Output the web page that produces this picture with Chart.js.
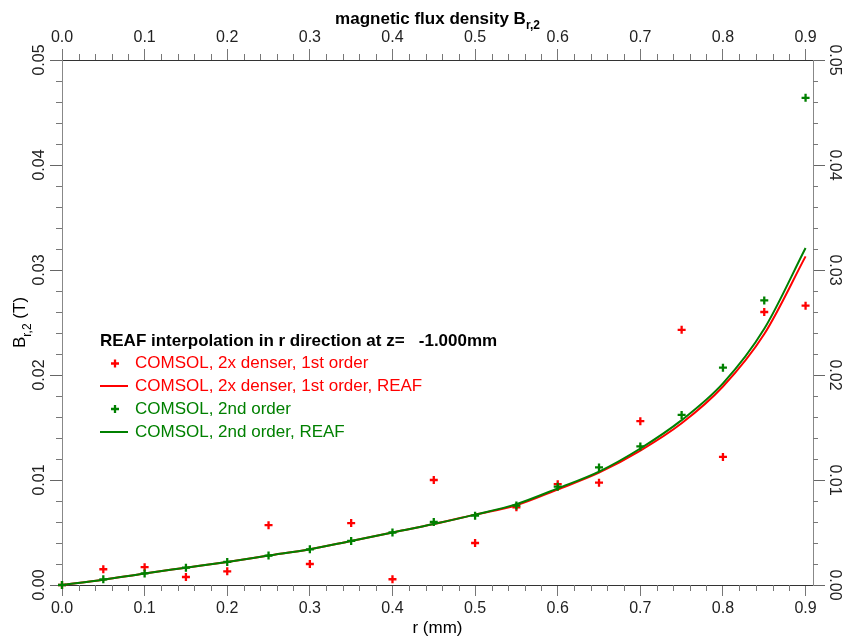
<!DOCTYPE html>
<html>
<head>
<meta charset="utf-8">
<title>magnetic flux density B r,2</title>
<script src="https://cdn.jsdelivr.net/npm/chart.js@4.4.1/dist/chart.umd.min.js"></script>
<style>
  html, body { margin: 0; padding: 0; background: #fff; }
  #wrap { width: 847px; height: 637px; position: relative; }
</style>
</head>
<body>
<div id="wrap"><canvas id="fluxChart"></canvas></div>
<script>
// r positions (mm)
const rValues = [0, 0.05, 0.1, 0.15, 0.2, 0.25, 0.3, 0.35, 0.4, 0.45,
  0.5, 0.55, 0.6, 0.65, 0.7, 0.75, 0.8, 0.85, 0.9];

// COMSOL, 2x denser, 1st order (points)
const denserPoints = [0, 0.0015, 0.0017, 0.00076, 0.0013, 0.0057, 0.0020, 0.0059, 0.00055, 0.0100,
  0.0040, 0.0074, 0.0096, 0.00975, 0.0156, 0.0243, 0.0122, 0.0260, 0.0266];
// COMSOL, 2x denser, 1st order, REAF (line)
const denserReaf = [0, 0.0005, 0.0011, 0.00165, 0.0022, 0.0028, 0.0034, 0.0042, 0.0050, 0.0058,
  0.0067, 0.0076, 0.0091, 0.0107, 0.0128, 0.0154, 0.0189, 0.0239, 0.0313];
// COMSOL, 2nd order (points)
const secondPoints = [0, 0.00054, 0.0011, 0.00165, 0.0022, 0.0028, 0.0034, 0.0042, 0.0050, 0.0060,
  0.0066, 0.00756, 0.00936, 0.0112, 0.0132, 0.0162, 0.0207, 0.0271, 0.0464];
// COMSOL, 2nd order, REAF (line)
const secondReaf = [0, 0.0005, 0.0011, 0.00165, 0.0022, 0.0028, 0.0034, 0.0042, 0.0050, 0.0058,
  0.0067, 0.0077, 0.0092, 0.0108, 0.0130, 0.0157, 0.0192, 0.0244, 0.0321];

const xTickLabels = ["0.0", "0.1", "0.2", "0.3", "0.4", "0.5", "0.6", "0.7", "0.8", "0.9"];
const yTickLabels = ["0.00", "0.01", "0.02", "0.03", "0.04", "0.05"];

const FONT = '"Liberation Sans", Arial, sans-serif';
const RED = "#ff0000";
const GREEN = "#008000";

const toXY = (ys) => rValues.map((r, i) => ({ x: r, y: ys[i] }));

// ---- axis helpers
function xAxis(position, padding) {
  return {
    type: "linear",
    position: position,
    min: 0,
    max: 0.909,
    afterFit: (s) => { s.height = position === "bottom" ? 52 : 60; },
    grid: { display: true, drawOnChartArea: false, drawTicks: true, tickLength: 11, tickColor: "#777" },
    border: { display: true, color: "#333", width: 1 },
    ticks: {
      stepSize: 0.1,
      includeBounds: false,
      autoSkip: false,
      maxRotation: 0,
      padding: padding,
      color: "#222",
      font: { family: FONT, size: 16 },
      callback: (v) => xTickLabels[Math.round(v * 10)],
    },
  };
}

function yAxis(position, rotation, padding) {
  return {
    type: "linear",
    position: position,
    min: 0,
    max: 0.05,
    afterFit: (s) => { s.width = position === "left" ? 62 : 34; },
    grid: { display: true, drawOnChartArea: false, drawTicks: true, tickLength: 12, tickColor: "#666" },
    border: { display: true, color: "#888", width: 1 },
    ticks: {
      stepSize: 0.01,
      includeBounds: false,
      autoSkip: false,
      minRotation: rotation,
      maxRotation: rotation,
      crossAlign: "center",
      padding: padding,
      color: "#222",
      font: { family: FONT, size: 16 },
      callback: (v) => yTickLabels[Math.round(v * 100)],
    },
  };
}

// ---- minor ticks drawn through the scales
const minorTicks = {
  id: "minorTicks",
  afterDraw(chart) {
    const { ctx, chartArea: a, scales } = chart;
    ctx.save();
    ctx.strokeStyle = "#777";
    ctx.lineWidth = 1;
    ctx.beginPath();
    for (let i = 1; i < 46; i++) {
      if (i % 5 === 0) continue;
      const px = Math.round(scales.x.getPixelForValue(i * 0.02)) + 0.5;
      ctx.moveTo(px, a.bottom); ctx.lineTo(px, a.bottom + 6);
      ctx.moveTo(px, a.top); ctx.lineTo(px, a.top - 6);
    }
    for (let i = 1; i < 25; i++) {
      if (i % 5 === 0) continue;
      const py = Math.round(scales.y.getPixelForValue(i * 0.002)) + 0.5;
      ctx.moveTo(a.left, py); ctx.lineTo(a.left - 6, py);
      ctx.moveTo(a.right, py); ctx.lineTo(a.right + 5, py);
    }
    ctx.stroke();
    ctx.restore();
  },
};

// ---- axis titles with subscripts
function subText(ctx, parts, x, y, align) {
  // parts: [text, font, dy]
  let total = 0;
  parts.forEach((p) => { ctx.font = p[1]; total += ctx.measureText(p[0]).width; });
  let cx = align === "center" ? x - total / 2 : x;
  parts.forEach((p) => {
    ctx.font = p[1];
    ctx.fillText(p[0], cx, y + p[2]);
    cx += ctx.measureText(p[0]).width;
  });
}

const axisTitles = {
  id: "axisTitles",
  afterDraw(chart) {
    const { ctx, chartArea: a } = chart;
    const cx = (a.left + a.right) / 2;
    const cy = (a.top + a.bottom) / 2;
    ctx.save();
    ctx.fillStyle = "#000";
    ctx.textBaseline = "alphabetic";
    ctx.textAlign = "left";
    subText(ctx, [
      ["magnetic flux density B", "bold 17px " + FONT, 0],
      ["r,2", "bold 12px " + FONT, 5],
    ], cx, 24, "center");
    subText(ctx, [["r (mm)", "17px " + FONT, 0]], cx, 633, "center");
    ctx.translate(25, cy);
    ctx.rotate(-Math.PI / 2);
    subText(ctx, [
      ["B", "17px " + FONT, 0],
      ["r,2", "12px " + FONT, 6],
      [" (T)", "17px " + FONT, 0],
    ], 0, 0, "center");
    ctx.restore();
  },
};

// ---- legend inside the plot
const plotLegend = {
  id: "plotLegend",
  afterDraw(chart) {
    const { ctx } = chart;
    ctx.save();
    ctx.textBaseline = "middle";
    ctx.textAlign = "left";
    ctx.fillStyle = "#000";
    ctx.font = "bold 17px " + FONT;
    ctx.fillText("REAF interpolation in r direction at z=   -1.000mm", 100, 341.5);
    const rowY = [363.5, 386, 409, 432];
    ctx.font = "17px " + FONT;
    chart.data.datasets.forEach((ds, k) => {
      const y = rowY[k];
      ctx.strokeStyle = ds.borderColor;
      ctx.lineWidth = 2;
      if (ds.showLine) {
        ctx.beginPath(); ctx.moveTo(100, y); ctx.lineTo(128, y); ctx.stroke();
      } else {
        ctx.lineWidth = 2.3;
        Chart.helpers.drawPoint(ctx, { pointStyle: "cross", radius: 4, borderWidth: 2.3 }, 115, y);
      }
      ctx.fillStyle = ds.borderColor;
      ctx.fillText(ds.label, 135, y);
    });
    ctx.restore();
  },
};

const pointSet = (label, ys, color, order) => ({
  label: label,
  data: toXY(ys),
  showLine: false,
  borderColor: color,
  backgroundColor: color,
  pointStyle: "cross",
  pointRadius: 4,
  pointBorderWidth: 2.3,
  pointHoverRadius: 4,
  clip: false,
  order: order,
});

const lineSet = (label, ys, color, order) => ({
  label: label,
  data: toXY(ys),
  showLine: true,
  borderColor: color,
  backgroundColor: color,
  borderWidth: 2,
  pointRadius: 0,
  pointHoverRadius: 0,
  cubicInterpolationMode: "monotone",
  clip: false,
  order: order,
});

new Chart(document.getElementById("fluxChart"), {
  type: "scatter",
  data: {
    datasets: [
      pointSet("COMSOL, 2x denser, 1st order", denserPoints, RED, 2),
      lineSet("COMSOL, 2x denser, 1st order, REAF", denserReaf, RED, 3),
      pointSet("COMSOL, 2nd order", secondPoints, GREEN, 1),
      lineSet("COMSOL, 2nd order, REAF", secondReaf, GREEN, 0),
    ],
  },
  options: {
    responsive: true,
    maintainAspectRatio: false,
    animation: false,
    devicePixelRatio: 1,
    layout: { padding: 0 },
    plugins: { legend: { display: false }, tooltip: { enabled: false } },
    scales: {
      x: xAxis("bottom", 3.4),
      x2: xAxis("top", 1.9),
      y: yAxis("left", 90, -5),
      y2: yAxis("right", -90, -6),
    },
  },
  plugins: [minorTicks, axisTitles, plotLegend],
});
</script>
</body>
</html>
